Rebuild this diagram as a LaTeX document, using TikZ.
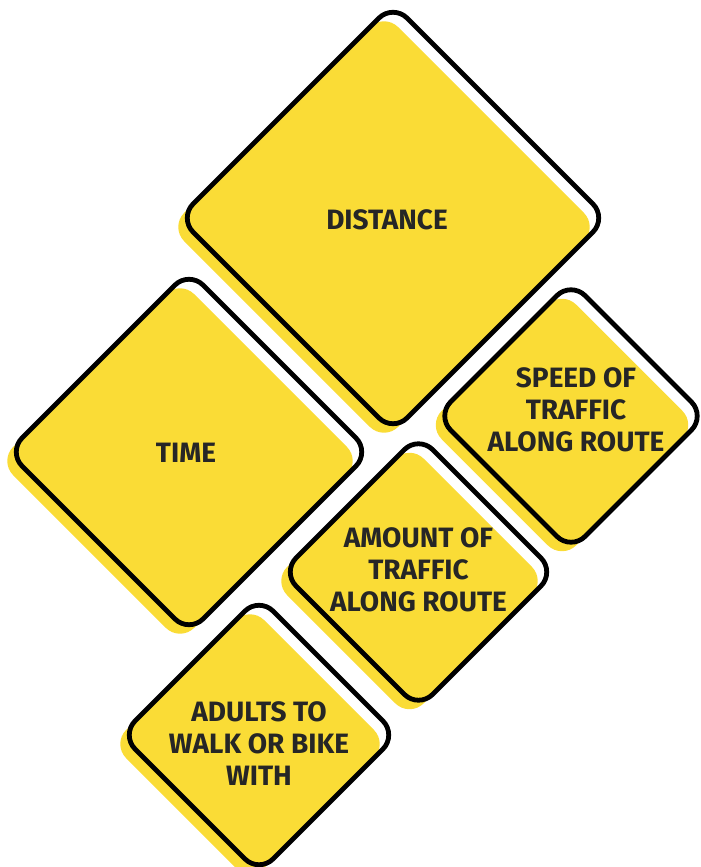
\documentclass[tikz,border=0pt]{standalone}
\usepackage{fontspec}
\setmainfont{Fira Sans}
\usetikzlibrary{shapes.geometric, shadows}
\definecolor{signyellow}{HTML}{FADC36}
\definecolor{signink}{HTML}{262626}

\begin{document}
\begin{tikzpicture}[
  x=0.5pt, y=-0.5pt,
  sign/.style={diamond, aspect=1, draw=black, line width=2.4pt,
               rounded corners=10pt, inner sep=0pt,
               minimum width=#1, minimum height=#1,
               general shadow={fill=signyellow, shadow xshift=-4.5pt, shadow yshift=-4.5pt}},
  signtext/.style={font=\bfseries\fontsize{14}{16}\selectfont,
                   text=signink, align=center}
]
\useasboundingbox (0,0) rectangle (701,867);

% ---- cartelli (contorno nero, giallo spostato in basso a sinistra)
\node[sign=215pt] (dist)   at (393,218) {};
\node[sign=182pt] (time)   at (189,452) {};
\node[sign=135.5pt] (speed)  at (571,416) {};
\node[sign=137.5pt] (amount) at (418.5,572) {};
\node[sign=139pt] (adults) at (259,735) {};

% ---- testi ----------------------------------------------------------
\node[signtext] (dist-lbl)   at ([xshift=-3pt,yshift=-1pt]dist.center)   {DISTANCE};
\node[signtext] (time-lbl)   at ([xshift=-1.5pt,yshift=-0.5pt]time.center) {TIME};
\node[signtext] (speed-lbl)  at ([xshift=2.5pt,yshift=3pt]speed.center)   {SPEED OF\\TRAFFIC\\ALONG ROUTE};
\node[signtext] (amount-lbl) at ([yshift=1pt]amount.center)  {AMOUNT OF\\TRAFFIC\\ALONG ROUTE};
\node[signtext] (adults-lbl) at ([yshift=-4.5pt]adults.center) {ADULTS TO\\WALK OR BIKE\\WITH};

\end{tikzpicture}
\end{document}
